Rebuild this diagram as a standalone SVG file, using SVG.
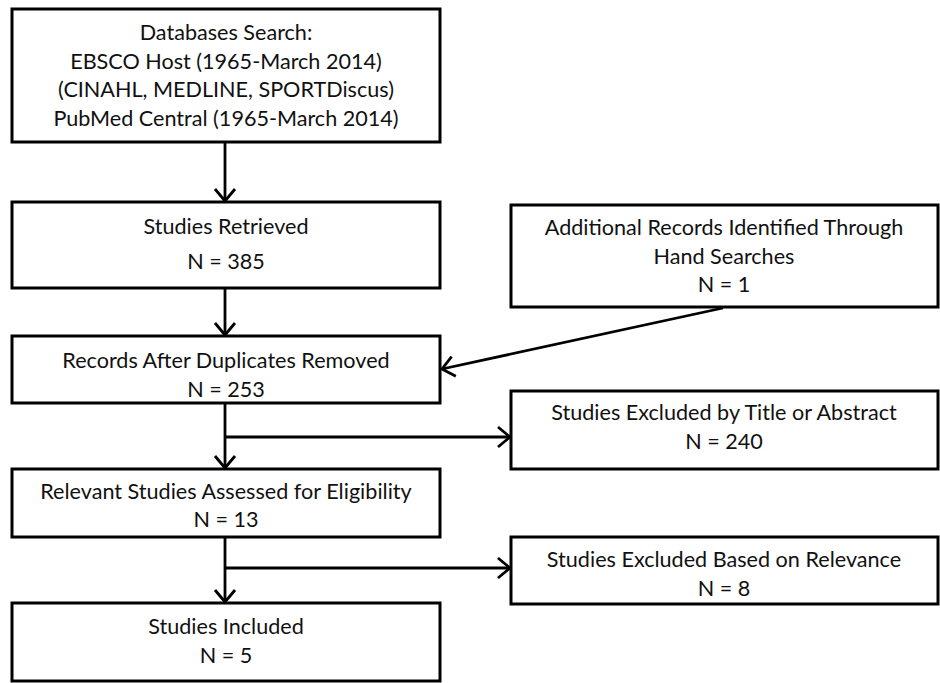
<svg xmlns="http://www.w3.org/2000/svg" width="940" height="683" viewBox="0 0 940 683">
<style>
.box{fill:#fff;stroke:#000;stroke-width:3}
.t{font-family:Lato,"Liberation Sans",sans-serif;font-size:21.6px;fill:#111;text-anchor:middle}
.c{fill:none;stroke:#000;stroke-width:2.8}
</style>
<defs>
<marker id="ah" markerUnits="userSpaceOnUse" markerWidth="16" markerHeight="24" refX="13" refY="11" orient="auto" viewBox="0 0 16 22">
<path d="M1,1 L13,11 L1,21" fill="none" stroke="#000" stroke-width="2.8"/>
</marker>
</defs>
<rect width="940" height="683" fill="#fff"/>
<g id="n1"><rect class="box" x="12" y="9" width="428" height="133"/>
<text class="t" x="226" y="40">Databases Search:</text>
<text class="t" x="226" y="69">EBSCO Host (1965-March 2014)</text>
<text class="t" x="226" y="97">(CINAHL, MEDLINE, SPORTDiscus)</text>
<text class="t" x="226" y="126">PubMed Central (1965-March 2014)</text></g>
<g id="n2"><rect class="box" x="12" y="202" width="428" height="86"/>
<text class="t" x="226" y="234">Studies Retrieved</text>
<text class="t" x="226" y="269">N = 385</text></g>
<g id="n3"><rect class="box" x="511" y="205" width="427" height="102"/>
<text class="t" x="724" y="235">Additional Records Identified Through</text>
<text class="t" x="724" y="264">Hand Searches</text>
<text class="t" x="724" y="292">N = 1</text></g>
<g id="n4"><rect class="box" x="12" y="336" width="428" height="67"/>
<text class="t" x="226" y="368">Records After Duplicates Removed</text>
<text class="t" x="226" y="397">N = 253</text></g>
<g id="n5"><rect class="box" x="511" y="391" width="427" height="78"/>
<text class="t" x="724" y="420">Studies Excluded by Title or Abstract</text>
<text class="t" x="724" y="449">N = 240</text></g>
<g id="n6"><rect class="box" x="12" y="469" width="428" height="68"/>
<text class="t" x="226" y="499">Relevant Studies Assessed for Eligibility</text>
<text class="t" x="226" y="527">N = 13</text></g>
<g id="n7"><rect class="box" x="511" y="537" width="427" height="67"/>
<text class="t" x="724" y="567">Studies Excluded Based on Relevance</text>
<text class="t" x="724" y="596">N = 8</text></g>
<g id="n8"><rect class="box" x="12" y="603" width="428" height="78"/>
<text class="t" x="226" y="634">Studies Included</text>
<text class="t" x="226" y="663">N = 5</text></g>
<g id="connectors">
<line class="c" x1="225" y1="142" x2="225" y2="201" marker-end="url(#ah)"/>
<line class="c" x1="225" y1="288" x2="225" y2="335" marker-end="url(#ah)"/>
<line class="c" x1="723" y1="308" x2="442" y2="369" marker-end="url(#ah)"/>
<line class="c" x1="225" y1="403" x2="225" y2="468" marker-end="url(#ah)"/>
<line class="c" x1="225" y1="437" x2="510" y2="437" marker-end="url(#ah)"/>
<line class="c" x1="225" y1="537" x2="225" y2="602" marker-end="url(#ah)"/>
<line class="c" x1="225" y1="568" x2="510" y2="568" marker-end="url(#ah)"/>
</g>
</svg>
